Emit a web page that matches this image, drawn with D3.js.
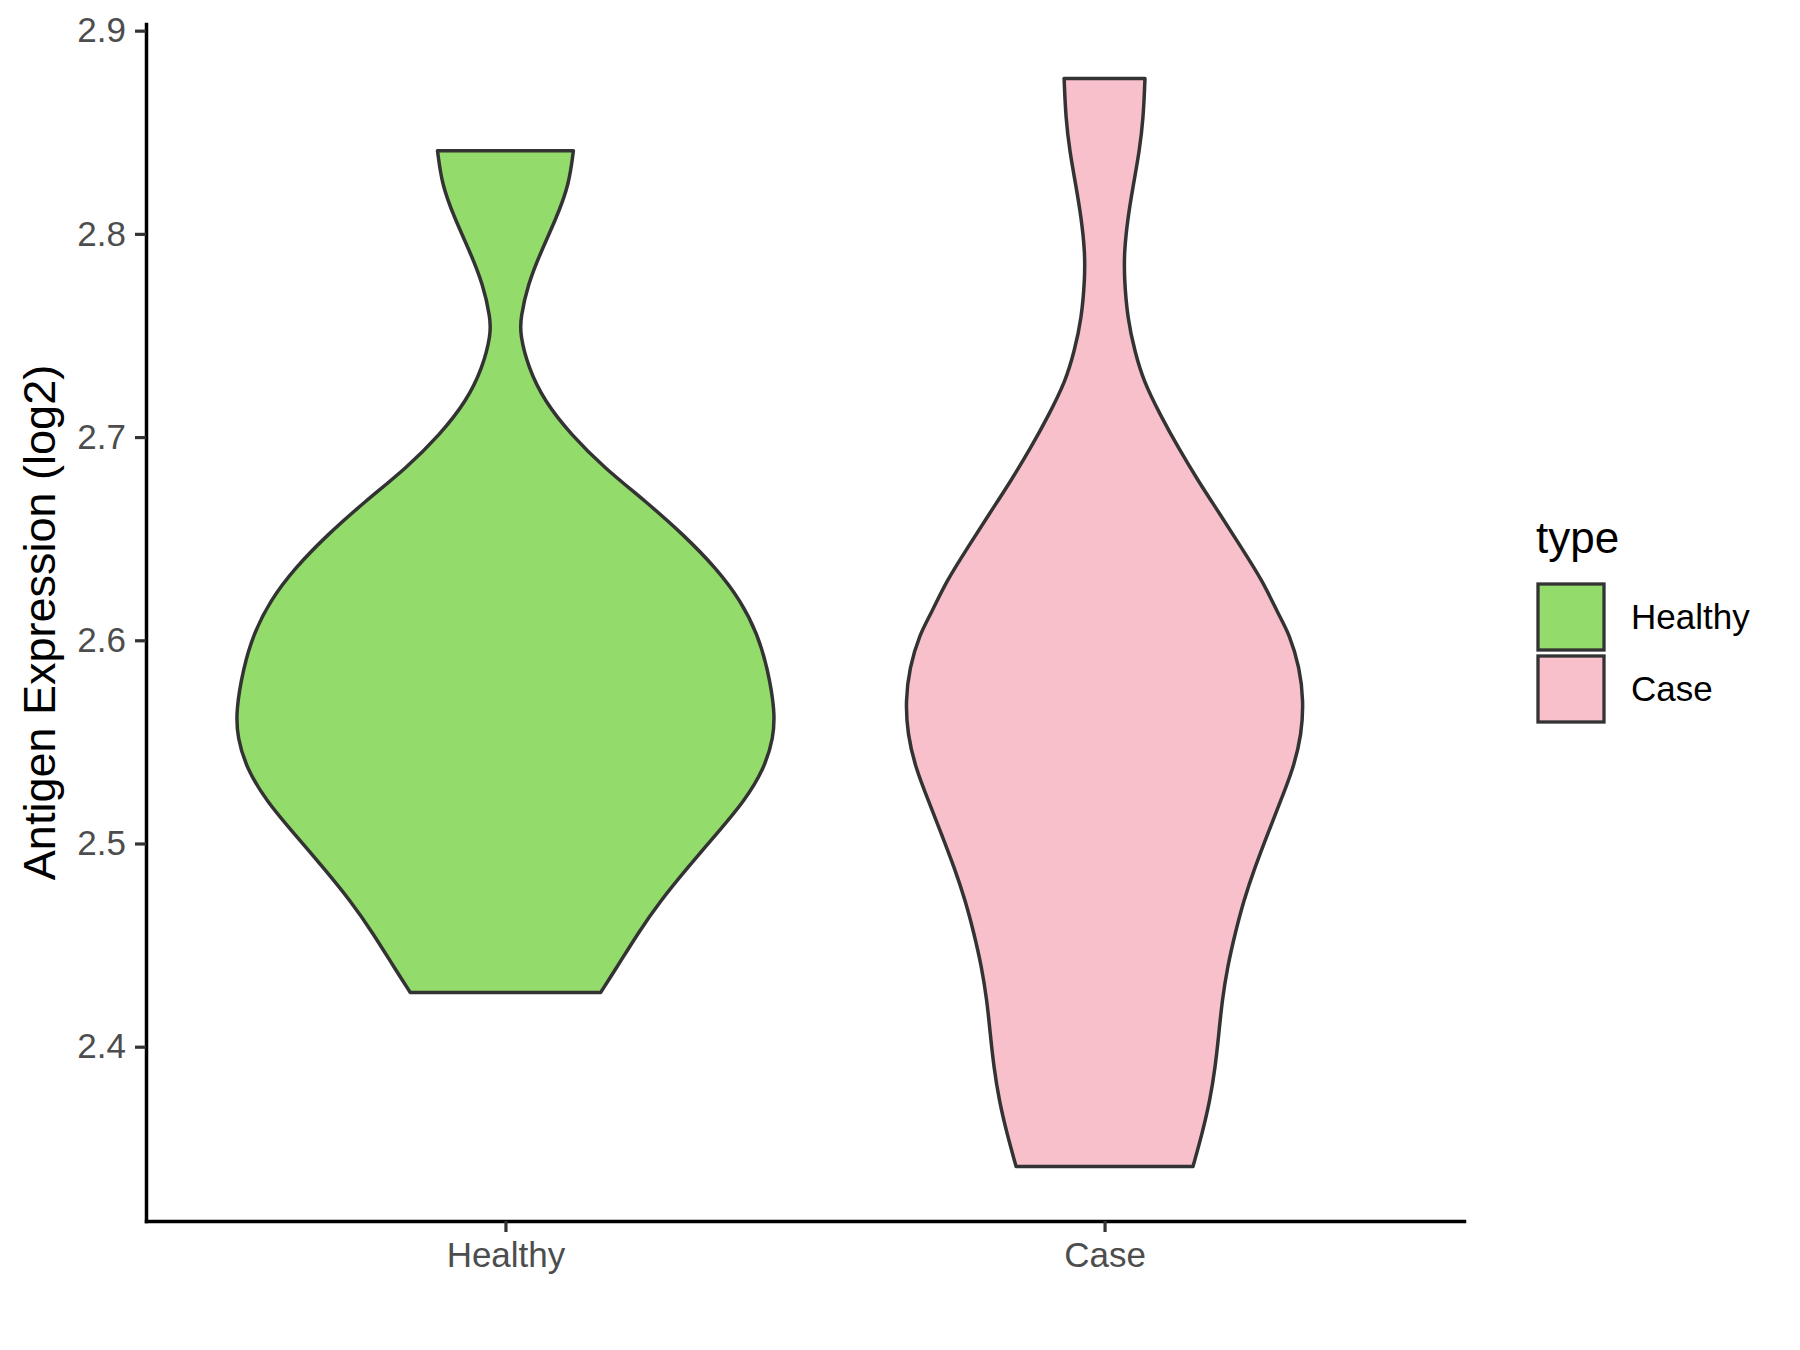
<!DOCTYPE html>
<html>
<head>
<meta charset="utf-8">
<script src="https://cdn.jsdelivr.net/npm/d3@7"></script>
<style>
  html, body { margin: 0; padding: 0; background: #ffffff; }
  svg { display: block; }
</style>
</head>
<body>
<svg id="chart" width="1800" height="1350"></svg>
<script>
// ---- data ----
const categories = ["Healthy", "Case"];
const fillColors = ["#93DB6B", "#F7C0CB"];
const yTicks = [2.4, 2.5, 2.6, 2.7, 2.8, 2.9];
const yTitle = "Antigen Expression (log2)";
const legendTitle = "type";

// violin profiles: expression value and relative density (half-width, 1 = widest)
const healthyValues = [2.8409, 2.8243, 2.8078, 2.7913, 2.7751, 2.7586, 2.7505, 2.7340, 2.7176, 2.7012,
  2.6848, 2.6684, 2.6520, 2.6356, 2.6193, 2.6029, 2.5865, 2.5652, 2.5519, 2.5372,
  2.5209, 2.5047, 2.4880, 2.4718, 2.4556, 2.4388, 2.4267];
const healthyDensity = [0.252, 0.236, 0.189, 0.132, 0.083, 0.056, 0.054, 0.085, 0.145, 0.243,
  0.367, 0.520, 0.660, 0.781, 0.874, 0.935, 0.972, 1.000, 0.994, 0.961,
  0.887, 0.783, 0.675, 0.575, 0.490, 0.412, 0.353];

const caseValues = [2.8765, 2.8569, 2.8405, 2.8243, 2.8077, 2.7913, 2.7782, 2.7586, 2.7422, 2.7274,
  2.7111, 2.6946, 2.6783, 2.6619, 2.6455, 2.6291, 2.6127, 2.6030, 2.5863, 2.5701,
  2.5539, 2.5372, 2.5209, 2.5047, 2.4880, 2.4718, 2.4556, 2.4393, 2.4226, 2.4064,
  2.3902, 2.3735, 2.3572, 2.3410];
const caseDensity = [0.150, 0.144, 0.129, 0.107, 0.086, 0.073, 0.073, 0.085, 0.112, 0.145,
  0.206, 0.274, 0.348, 0.429, 0.508, 0.587, 0.645, 0.686, 0.724, 0.738,
  0.731, 0.701, 0.653, 0.605, 0.557, 0.516, 0.484, 0.456, 0.436, 0.424,
  0.411, 0.391, 0.362, 0.328];

const violins = [
  { cat: "Healthy", values: healthyValues, density: healthyDensity, fill: fillColors[0] },
  { cat: "Case", values: caseValues, density: caseDensity, fill: fillColors[1] }
];

// ---- layout ----
const svg = d3.select("#chart");
const panel = { left: 146, right: 1464, top: 24, bottom: 1221 };
const FONT = "'Liberation Sans', Arial, Helvetica, sans-serif";

const allVals = healthyValues.concat(caseValues);
const vmin = d3.min(allVals), vmax = d3.max(allVals);
const pad = (vmax - vmin) * 0.05;

const y = d3.scaleLinear().domain([vmin - pad, vmax + pad]).range([panel.bottom, panel.top]);
const x = d3.scalePoint().domain(categories).range([panel.left, panel.right]).padding(0.6);
const w = d3.scaleLinear().domain([0, 1]).range([0, 0.45 * x.step()]);

// ---- violins ----
violins.forEach(v => {
  const pts = v.values.map((val, i) => ({ val, d: v.density[i] }));
  const cx = x(v.cat);
  const area = d3.area()
    .y(p => y(p.val))
    .x0(p => cx - w(p.d))
    .x1(p => cx + w(p.d))
    .curve(d3.curveBasis);
  svg.append("path")
    .datum(pts)
    .attr("d", area)
    .attr("fill", v.fill)
    .attr("stroke", "#333333")
    .attr("stroke-width", 3.5)
    .attr("stroke-linejoin", "round");
});

// ---- axes ----
const yAxis = d3.axisLeft(y).tickValues(yTicks).tickFormat(d3.format(".1f"))
  .tickSize(11).tickSizeOuter(0).tickPadding(9);
const gy = svg.append("g").attr("transform", `translate(${panel.left},0)`).call(yAxis);

const xAxis = d3.axisBottom(x).tickSize(11).tickSizeOuter(0).tickPadding(10);
const gx = svg.append("g").attr("transform", `translate(0,${panel.bottom})`).call(xAxis);

[gx, gy].forEach(g => {
  g.select(".domain").attr("stroke", "#000000").attr("stroke-width", 3.5).attr("stroke-linecap", "square");
  g.selectAll(".tick line").attr("stroke", "#333333").attr("stroke-width", 3.2);
  g.selectAll(".tick text").attr("fill", "#4D4D4D").style("font-family", FONT).style("font-size", "35px");
});

// y title
svg.append("text")
  .attr("transform", `translate(55,${(panel.top + panel.bottom) / 2}) rotate(-90)`)
  .attr("text-anchor", "middle")
  .style("font-family", FONT).style("font-size", "45px").attr("fill", "#000000")
  .text(yTitle);

// ---- legend ----
const lg = svg.append("g");
lg.append("text")
  .attr("x", 1536).attr("y", 553)
  .style("font-family", FONT).style("font-size", "44px").attr("fill", "#000000")
  .text(legendTitle);

categories.forEach((c, i) => {
  const top = 584 + i * 72;
  lg.append("rect")
    .attr("x", 1538).attr("y", top)
    .attr("width", 66).attr("height", 66)
    .attr("fill", fillColors[i])
    .attr("stroke", "#333333").attr("stroke-width", 3.3);
  lg.append("text")
    .attr("x", 1631).attr("y", top + 33)
    .attr("dy", "0.35em")
    .style("font-family", FONT).style("font-size", "35px").attr("fill", "#000000")
    .text(c);
});
</script>
</body>
</html>
